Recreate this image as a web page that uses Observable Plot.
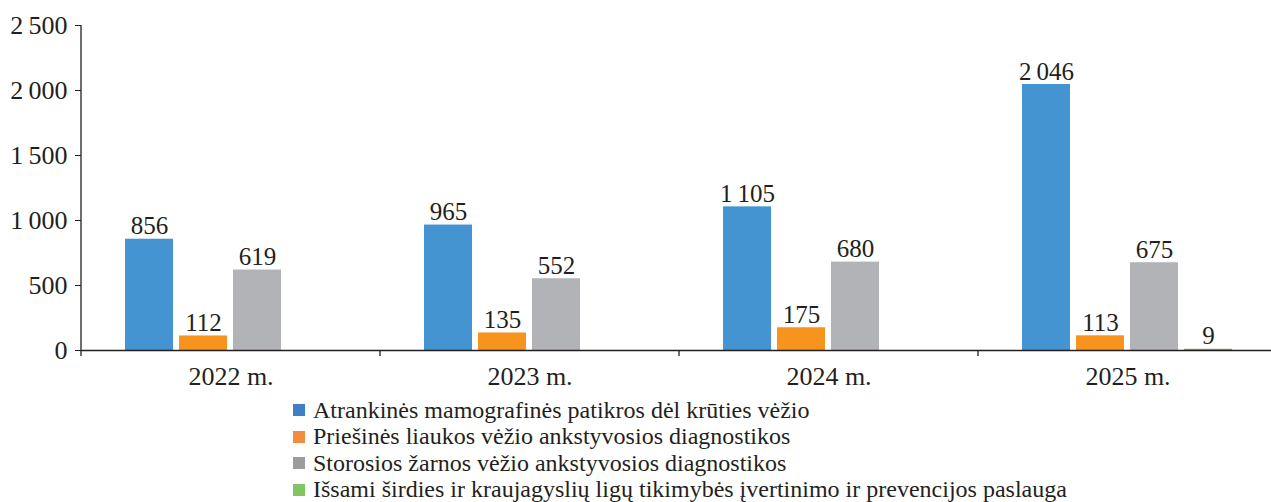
<!DOCTYPE html>
<html><head><meta charset="utf-8">
<script src="https://cdn.jsdelivr.net/npm/d3@7"></script>
<script src="https://cdn.jsdelivr.net/npm/@observablehq/plot@0.6"></script>
<style>
body{margin:0;background:#fff;font-family:"Liberation Serif","Times New Roman",serif;}
#legend{margin-left:293px;margin-top:2px;}
.row{display:flex;align-items:center;height:26.5px;font-size:24px;color:#231f20;white-space:nowrap;}
.sw{width:12px;height:12px;margin-right:8px;flex:none;}
</style></head><body>
<div id="chart"></div><div id="legend"></div>
<script>
const years = ["2022 m.","2023 m.","2024 m.","2025 m."];
const series = [
  "Atrankinės mamografinės patikros dėl krūties vėžio",
  "Priešinės liaukos vėžio ankstyvosios diagnostikos",
  "Storosios žarnos vėžio ankstyvosios diagnostikos",
  "Išsami širdies ir kraujagyslių ligų tikimybės įvertinimo ir prevencijos paslauga"
];
const mamografija = [856, 965, 1105, 2046];
const prostata = [112, 135, 175, 113];
const zarnynas = [619, 552, 680, 675];
const sirdis = [null, null, null, 9];
const yTicks = [0, 500, 1000, 1500, 2000, 2500];
const barColors = ["#4394d0", "#f7941d", "#b2b3b7", "#6ab04c"];
const legendColors = ["#3f80c2", "#f38d3e", "#9d9d9d", "#82c462"];

const data = [];
[mamografija, prostata, zarnynas, sirdis].forEach((vals, i) =>
  vals.forEach((v, j) => { if (v != null) data.push({year: years[j], series: series[i], value: v}); }));

const fmt = d3.formatLocale({thousands: "\u2009", grouping: [3], decimal: ","}).format(",d");
const ink = "#231f20";

const plot = Plot.plot({
  width: 1271, height: 395,
  marginTop: 25, marginLeft: 80, marginRight: -7, marginBottom: 45,
  style: {fontFamily: "'Liberation Serif','Times New Roman',serif", fontSize: "24px", color: ink, background: "white"},
  fx: {domain: years, padding: 0, label: null},
  x: {domain: series, paddingInner: 0.11, paddingOuter: 0.82, axis: null},
  y: {domain: [0, 2500], label: null},
  color: {domain: series, range: barColors},
  marks: [
    Plot.axisY({ticks: yTicks, tickFormat: fmt, tickSize: 6, tickPadding: 8, fontSize: 26, label: null, stroke: ink}),
    Plot.axisFx({anchor: "bottom", tickSize: 0, tickPadding: 16, fontSize: 26, label: null}),
    Plot.barY(data, {fx: "year", x: "series", y: "value", fill: "series"}),
    Plot.text(data, {fx: "year", x: "series", y: "value", text: d => fmt(d.value), lineAnchor: "bottom", dy: -5, fontSize: 25, fill: ink}),
    Plot.ruleY([0], {stroke: ink, strokeWidth: 1.3})
  ]
});

// axis line and category dividers from the plot's own scales
const svg = d3.select(plot);
const fxs = plot.scale("fx"), ys = plot.scale("y");
const y0 = ys.apply(0), yTop = ys.apply(2500);
const g = svg.append("g").attr("stroke", ink).attr("stroke-width", 1.3);
g.append("line").attr("x1", fxs.apply(years[0])).attr("x2", fxs.apply(years[0])).attr("y1", yTop).attr("y2", y0 + 6);
years.slice(1).forEach(yr => {
  const x = fxs.apply(yr);
  g.append("line").attr("x1", x).attr("x2", x).attr("y1", y0).attr("y2", y0 + 6);
});

document.getElementById("chart").appendChild(plot);

const legend = document.getElementById("legend");
series.forEach((s, i) => {
  const row = document.createElement("div"); row.className = "row";
  const sw = document.createElement("div"); sw.className = "sw"; sw.style.background = legendColors[i];
  const t = document.createElement("span"); t.textContent = s;
  row.appendChild(sw); row.appendChild(t); legend.appendChild(row);
});
</script>
</body></html>
